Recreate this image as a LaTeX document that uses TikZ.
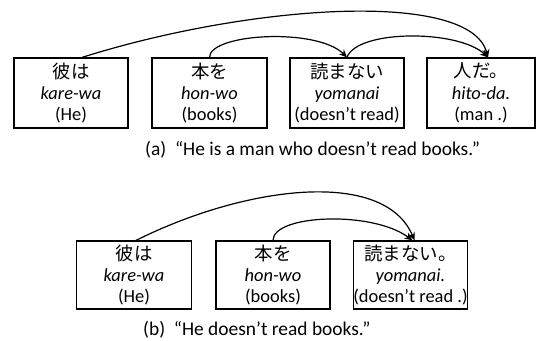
\documentclass[tikz,border=0pt]{standalone}
\usepackage{fontspec}
\setmainfont{Carlito}
\newfontfamily\jpfont{Noto Sans CJK JP}
\usetikzlibrary{arrows.meta}
\begin{document}
\begin{tikzpicture}[x=1bp,y=-1bp,
  wbox/.style={draw,line width=1.2bp,align=center,inner sep=0pt,
    font=\fontsize{18.5}{21.5}\selectfont},
  dep/.style={line width=1.2bp,-{Stealth[length=8bp,width=7bp]}},
  captext/.style={anchor=west,inner sep=0pt,font=\fontsize{19.5}{21}\selectfont}]
\useasboundingbox (0,0) rectangle (537,340);
% (a)
\node[wbox,minimum width=114bp,minimum height=70bp] (a1) at (71,93) {{\jpfont 彼は}\\\textit{kare-wa}\\(He)};
\node[wbox,minimum width=115bp,minimum height=70bp] (a2) at (209.5,93) {{\jpfont 本を}\\\textit{hon-wo}\\(books)};
\node[wbox,minimum width=114bp,minimum height=70bp] (a3) at (347,93) {{\jpfont 読まない}\\\textit{yomanai}\\(doesn’t read)};
\node[wbox,minimum width=108bp,minimum height=70bp] (a4) at (481,93) {{\jpfont 人だ。}\\\textit{hito-da.}\\(man .)};
\node[captext] (ca) at (145,150) {(a)\ \ “He is a man who doesn’t read books.”};
\draw[dep] ([xshift=11bp]a1.north) .. controls +(168,-53) and +(-18,-68) .. ([xshift=7bp]a4.north);
\draw[dep] (a2.north) .. controls +(0,-24) and +(-30,-30) .. (a3.north);
\draw[dep] (a3.north) .. controls +(10,-28) and +(-30,-28) .. ([xshift=7bp]a4.north);
% (b)
\node[wbox,minimum width=115bp,minimum height=68bp] (b1) at (134,275) {{\jpfont 彼は}\\\textit{kare-wa}\\(He)};
\node[wbox,minimum width=114bp,minimum height=68bp] (b2) at (273,275) {{\jpfont 本を}\\\textit{hon-wo}\\(books)};
\node[wbox,minimum width=113bp,minimum height=68bp] (b3) at (410.5,275) {{\jpfont 読まない。}\\\textit{yomanai.}\\(doesn’t read .)};
\node[captext] (cb) at (143,330) {(b)\ \ “He doesn’t read books.”};
\draw[dep] ([xshift=2bp]b1.north) .. controls +(110,-55) and +(-30,-72) .. ([xshift=4bp]b3.north);
\draw[dep] (b2.north) .. controls +(0,-26) and +(-40,-30) .. ([xshift=2bp]b3.north);
\end{tikzpicture}
\end{document}
